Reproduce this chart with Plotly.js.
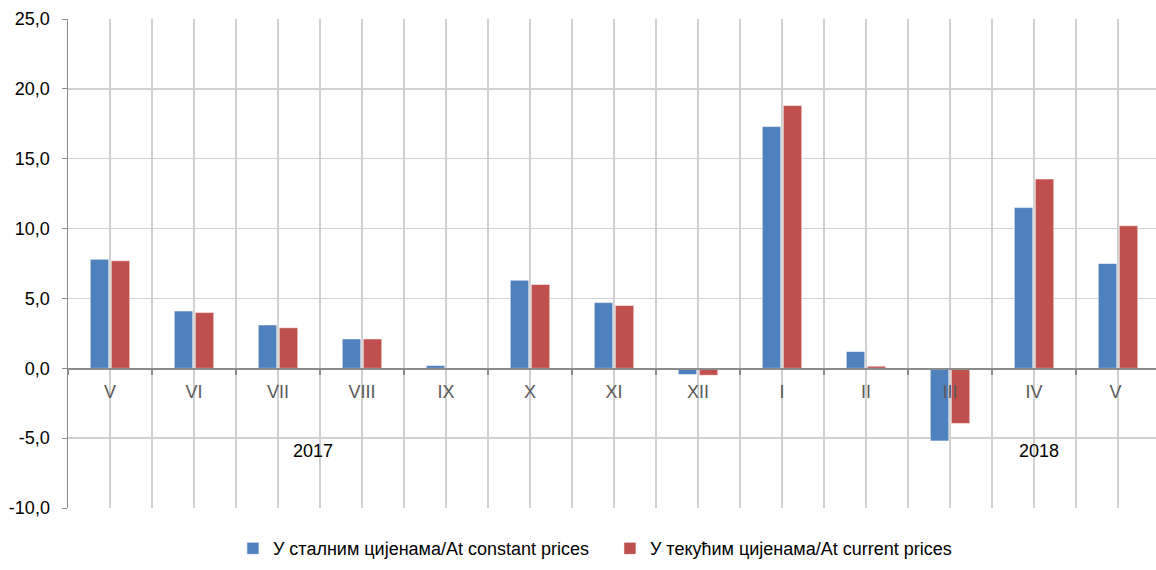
<!DOCTYPE html>
<html>
<head>
<meta charset="utf-8">
<script src="https://cdn.plot.ly/plotly-3.0.1.min.js"></script>
<style>html,body{margin:0;padding:0;background:#fff;}#chart{width:1156px;height:570px;}</style>
</head>
<body>
<div id="chart"></div>
<script>
const months = ["V", "VI", "VII", "VIII", "IX", "X", "XI", "XII", "I", "II", "III", "IV", "V "];
const constantPrices = [7.8, 4.1, 3.1, 2.1, 0.2, 6.3, 4.7, -0.45, 17.3, 1.2, -5.2, 11.5, 7.5];
const currentPrices = [7.7, 4.0, 2.9, 2.1, 0.0, 6.0, 4.5, -0.5, 18.8, 0.15, -3.95, 13.55, 10.2];
const seriesNames = ["У сталним цијенама/At constant prices", "У текућим цијенама/At current prices"];
const yearLabels = ["2017", "2018"];
const yearPos = [2.42, 11.06];
const yTickVals = [-10, -5, 0, 5, 10, 15, 20, 25];
const yTickText = ["-10,0", "-5,0", "0,0", "5,0", "10,0", "15,0", "20,0", "25,0"];

const FONT = "'Liberation Sans', Arial, sans-serif";
const GRID = "#d0d0d0";
const AXIS = "#8c8c8c";
const xRange = [-0.5, 12.452];
const zeroPos = 10 / 35;

const traces = [
  {type: "bar", name: seriesNames[0], x: months, y: constantPrices,
   marker: {color: "#4f81bd", line: {color: "rgba(255,255,255,0.55)", width: 1}}},
  {type: "bar", name: seriesNames[1], x: months, y: currentPrices,
   marker: {color: "#c0504d", line: {color: "rgba(255,255,255,0.55)", width: 1}}}
];

const layout = {
  width: 1156, height: 570,
  margin: {l: 68, r: 0, t: 19, b: 62, autoexpand: false},
  paper_bgcolor: "#fff", plot_bgcolor: "#fff",
  separators: ", ",
  font: {family: FONT, size: 18, color: "#000"},
  barmode: "group", bargap: 0.5, bargroupgap: 0.12,
  showlegend: true,
  legend: {orientation: "h", x: 0.2015, xref: "container", xanchor: "left",
           y: 0.005, yref: "container", yanchor: "bottom",
           font: {family: FONT, size: 18, color: "#000"}, itemwidth: 30, traceorder: "normal",
           entrywidth: 332, entrywidthmode: "pixels"},
  xaxis: {type: "category", range: xRange, anchor: "free", position: zeroPos,
          showline: false, ticks: "", showgrid: true, gridcolor: GRID, gridwidth: 1.3,
          tickfont: {family: FONT, size: 18, color: "#595959"}, ticklabelstandoff: 11,
          fixedrange: true},
  xaxis2: {type: "linear", overlaying: "x", range: xRange, anchor: "free", position: zeroPos,
           tick0: 0.5, dtick: 1, showgrid: true, gridcolor: GRID, gridwidth: 1.3,
           showticklabels: false, ticks: "outside", ticklen: 5, tickcolor: AXIS, tickwidth: 1.3,
           showline: true, linecolor: AXIS, linewidth: 1.5, zeroline: false},
  yaxis: {range: [-10, 25], tickmode: "array", tickvals: yTickVals, ticktext: yTickText,
          showgrid: true, gridcolor: GRID, gridwidth: 1.3, zeroline: false,
          showline: true, linecolor: AXIS, linewidth: 1.5,
          ticks: "outside", ticklen: 5, tickcolor: AXIS, ticklabelstandoff: 8,
          tickfont: {family: FONT, size: 18, color: "#000"}},
  annotations: yearLabels.map((t, i) => ({
    text: t, x: yearPos[i], y: -5.95, xref: "x2", yref: "y", showarrow: false,
    font: {family: FONT, size: 18, color: "#000"}
  }))
};

Plotly.newPlot("chart", traces, layout, {displayModeBar: false, staticPlot: true});
</script>
</body>
</html>
